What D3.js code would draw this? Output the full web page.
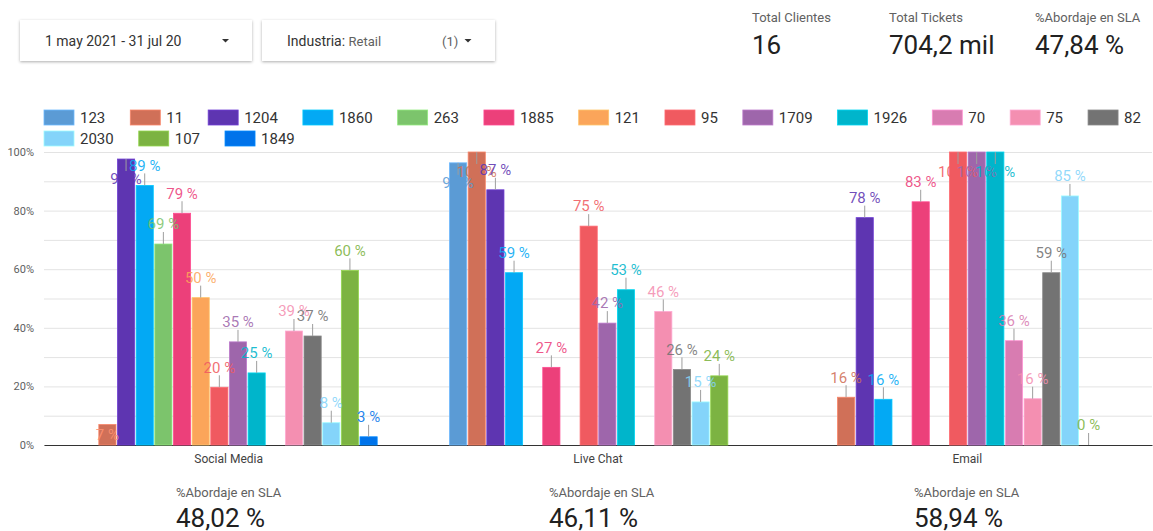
<!DOCTYPE html>
<html>
<head>
<meta charset="utf-8">
<script src="https://cdn.jsdelivr.net/npm/d3@7"></script>
<style>
  html, body { margin: 0; padding: 0; background: #fff; }
  svg { display: block; font-family: Roboto, "Noto Sans", sans-serif; }
</style>
</head>
<body>
<svg id="chart" width="1153" height="531"></svg>
<script>
// Channels on the x axis
const channels = ["Social Media", "Live Chat", "Email"];
// Client series (legend order)
const series = ["123", "11", "1204", "1860", "263", "1885", "121", "95", "1709", "1926", "70", "75", "82", "2030", "107", "1849"];
const seriesColors = ["#5b9bd5", "#d07058", "#5e35b1", "#03a9f4", "#7cc46c", "#ec407a", "#fba55a", "#f05a60", "#9e66ab", "#00b5cb", "#d87cb1", "#f48fb1", "#737373", "#84d4fa", "#7cb342", "#0073ea"];
// % SLA per client, one array per channel (null = no data)
const socialMedia = [null, 7, 97.6, 88.6, 68.6, 79.1, 50.3, 19.7, 35.2, 24.6, null, 38.9, 37.2, 7.6, 59.6, 2.8];
const liveChat    = [96.3, 100, 87.1, 58.8, null, 26.5, null, 74.7, 41.6, 53, null, 45.6, 25.8, 14.7, 23.6, null];
const email       = [null, 16.3, 77.6, 15.6, null, 83, null, 100, 100, 100, 35.6, 15.8, 58.8, 85, 0, null];
const channelValues = [socialMedia, liveChat, email];
// Labels placed inside their bar (channel, client)
const insideLabels = [["Social Media", "11"]];
// Y ticks
const yTicks = [0, 20, 40, 60, 80, 100];
const yGrid = [0, 10, 20, 30, 40, 50, 60, 70, 80, 90, 100];
// Scorecards
const topCards = [
  { label: "Total Clientes", value: "16" },
  { label: "Total Tickets", value: "704,2 mil" },
  { label: "%Abordaje en SLA", value: "47,84 %" }
];
const channelSla = ["48,02 %", "46,11 %", "58,94 %"];
const dateRange = "1 may 2021 - 31 jul 20";
const filterLabel = "Industria:";
const filterValue = "Retail";
const filterCount = "(1)";

const svg = d3.select("#chart");

// ---- drop shadow for the filter controls
const defs = svg.append("defs");
const f = defs.append("filter").attr("id", "shadow").attr("x", "-10%").attr("y", "-20%").attr("width", "120%").attr("height", "160%");
f.append("feDropShadow").attr("dx", 0).attr("dy", 1).attr("stdDeviation", 1.4).attr("flood-color", "#000").attr("flood-opacity", 0.32);

// ---- controls
function control(x, w) {
  const g = svg.append("g").attr("transform", `translate(${x},20)`);
  g.append("rect").attr("width", w).attr("height", 41).attr("fill", "#fff").attr("filter", "url(#shadow)");
  return g;
}
function caret(g, x) {
  g.append("path").attr("d", `M${x - 3.5},19 L${x + 3.5},19 L${x},22.5 Z`).attr("fill", "#333");
}
const c1 = control(20, 232);
c1.append("text").attr("x", 25).attr("y", 25.5).attr("font-size", 14).attr("fill", "#333").text(dateRange);
caret(c1, 205.5);
const c2 = control(262, 233);
const ft = c2.append("text").attr("x", 25).attr("y", 25.5).attr("fill", "#333");
ft.append("tspan").attr("font-size", 14).text(filterLabel + " ");
ft.append("tspan").attr("font-size", 13).attr("fill", "#616161").text(filterValue);
c2.append("text").attr("x", 180).attr("y", 25.5).attr("font-size", 13).attr("fill", "#616161").text(filterCount);
caret(c2, 206);

// ---- top scorecards
const cardX = [752, 889, 1035];
topCards.forEach((c, i) => {
  svg.append("text").attr("x", cardX[i]).attr("y", 21.5).attr("font-size", 13).attr("fill", "#616161").text(c.label);
  svg.append("text").attr("x", cardX[i]).attr("y", 53.5).attr("font-size", 26).attr("fill", "#212121").text(c.value);
});

// ---- legend (wrapping rows)
const color = d3.scaleOrdinal().domain(series).range(seriesColors);
const legend = svg.append("g");
let lx = 44, ly = 110;
series.forEach(s => {
  const item = legend.append("g");
  item.append("rect").attr("width", 30).attr("height", 15).attr("fill", color(s))
    .attr("stroke", d3.color(color(s)).brighter(0.5)).attr("stroke-width", 0.8);
  const t = item.append("text").attr("x", 36).attr("y", 13).attr("font-size", 15).attr("fill", "#333").text(s);
  const w = 36 + t.node().getComputedTextLength();
  if (lx + w > 1150) { lx = 44; ly += 21; }
  item.attr("transform", `translate(${lx},${ly})`);
  lx += w + 25;
});

// ---- scales
const x0 = d3.scaleBand().domain(channels).range([44, 1152]);
const inner = 297;
const x1 = d3.scaleBand().domain(series)
  .range([(x0.bandwidth() - inner) / 2, (x0.bandwidth() + inner) / 2])
  .paddingInner(0.08);
const y = d3.scaleLinear().domain([0, 100]).range([445, 152]);

// ---- grid
svg.append("g").selectAll("line").data(yGrid).join("line")
  .attr("x1", 44).attr("x2", 1152)
  .attr("y1", d => y(d) + 0.5).attr("y2", d => y(d) + 0.5)
  .attr("stroke", "#e3e3e3").attr("stroke-width", 1);

// ---- y axis labels
const yAxis = svg.append("g").attr("transform", "translate(44,0)")
  .call(d3.axisLeft(y).tickValues(yTicks).tickFormat(d => d + "%").tickSize(0).tickPadding(10));
yAxis.select(".domain").remove();
yAxis.selectAll("text").attr("font-size", 11).attr("fill", "#616161").attr("font-family", "Roboto, sans-serif");

// ---- x axis
const xAxis = svg.append("g").attr("transform", "translate(0,445)")
  .call(d3.axisBottom(x0).tickSize(0).tickPadding(9));
xAxis.select(".domain").attr("stroke", "#333").attr("stroke-width", 1.2);
xAxis.selectAll("text").attr("font-size", 12).attr("fill", "#424242").attr("font-family", "Roboto, sans-serif");

// ---- bars
const rows = [];
channels.forEach((ch, ci) => {
  series.forEach((s, si) => {
    const v = channelValues[ci][si];
    if (v !== null && v !== undefined) rows.push({ ch, s, v });
  });
});
const bx = d => x0(d.ch) + x1(d.s);
const bw = x1.bandwidth();

svg.append("g").selectAll("rect").data(rows).join("rect")
  .attr("x", bx).attr("width", bw)
  .attr("y", d => y(d.v)).attr("height", d => y(0) - y(d.v))
  .attr("fill", d => color(d.s))
  .attr("stroke", d => d3.color(color(d.s)).brighter(0.5)).attr("stroke-width", 0.8);

// ---- value labels with leader lines (flipped inside for bars near the top)
const inside = d => insideLabels.some(([c, s]) => c === d.ch && s === d.s);
const flip = d => d.v > 92;
const withLine = rows.filter(d => !inside(d));
svg.append("g").selectAll("line").data(withLine).join("line")
  .attr("x1", d => bx(d) + bw / 2).attr("x2", d => bx(d) + bw / 2)
  .attr("y1", d => y(d.v))
  .attr("y2", d => flip(d) ? y(d.v) + 12 : y(d.v) - 12)
  .attr("stroke", "#9e9e9e").attr("stroke-width", 1);

svg.append("g").selectAll("text").data(rows).join("text")
  .attr("x", d => bx(d) + bw / 2)
  .attr("y", d => (inside(d) ? y(d.v) + 10 : flip(d) ? y(d.v) + 20 : y(d.v) - 20) + 5.3)
  .attr("text-anchor", "middle").attr("font-size", 15)
  .attr("fill", d => inside(d) ? d3.color(color(d.s)).brighter(0.7) : color(d.s)).attr("fill-opacity", 0.88)
  .text(d => Math.round(d.v) + " %");

// ---- channel scorecards
const cardBottomX = [176, 549, 914];
channels.forEach((ch, i) => {
  svg.append("text").attr("x", cardBottomX[i]).attr("y", 496.5).attr("font-size", 13).attr("fill", "#616161").text("%Abordaje en SLA");
  svg.append("text").attr("x", cardBottomX[i]).attr("y", 527).attr("font-size", 26).attr("fill", "#212121").text(channelSla[i]);
});
</script>
</body>
</html>
